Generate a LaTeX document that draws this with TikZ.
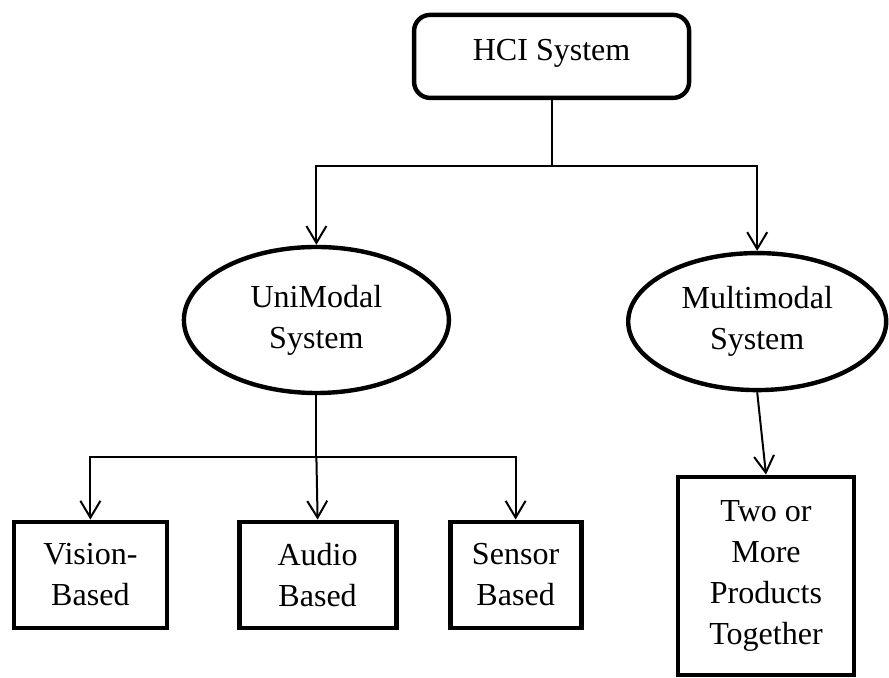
\documentclass[tikz,border=0pt]{standalone}
\usepackage{fontspec}
\setmainfont{Liberation Serif}
\usepackage{tikz}
\usetikzlibrary{arrows.meta,shapes.geometric,calc}

\begin{document}
\begin{tikzpicture}
[->,>={Straight Barb[length=0.42cm,width=0.5cm]},
line width=0.05cm,
every node/.style={font=\fontsize{22.8}{29.2}\selectfont,align=center},
hcibox/.style={draw,line width=0.11cm,rounded corners=0.4cm,
minimum width=6.875cm,minimum height=2.075cm,
text height=0.6cm,text depth=0.4cm},
modal/.style={draw,ellipse,line width=0.11cm,inner sep=0pt},
leaf/.style={draw,rectangle,line width=0.12cm,inner sep=0pt}]
\useasboundingbox (0,0) rectangle (22.225,16.95);

\node (hci) at (13.79,15.54) [hcibox] {HCI System};
\node (uni) at (7.91,8.95) [modal,minimum width=6.625cm,minimum height=3.65cm] {UniModal\\System};
\node (multi) at (18.93,8.91) [modal,minimum width=6.45cm,minimum height=3.425cm] {Multimodal\\System};
\node (vision) at (2.26,2.575) [leaf,minimum width=3.825cm,minimum height=2.65cm] {Vision-\\Based};
\node (audio) at (7.94,2.575) [leaf,minimum width=3.925cm,minimum height=2.65cm] {Audio\\Based};
\node (sensor) at (12.89,2.575) [leaf,minimum width=3.275cm,minimum height=2.65cm] {Sensor\\Based};
\node (two) at (19.15,2.55) [leaf,minimum width=4.4cm,minimum height=4.95cm] {Two or\\More\\Products\\Together};

\coordinate (top) at (13.79,12.8);
\coordinate (mid) at (7.91,5.525);

\draw[-] (hci.south) -- (top);
\draw (top) -| (uni.north);
\draw (top) -| (multi.north);

\draw[-] (uni.south) -- (mid);
\draw (mid) -| (vision.north);
\draw (mid) -- (audio.north);
\draw (mid) -| (sensor.north);

\draw (multi.south) -- (two.north);

\end{tikzpicture}
\end{document}
